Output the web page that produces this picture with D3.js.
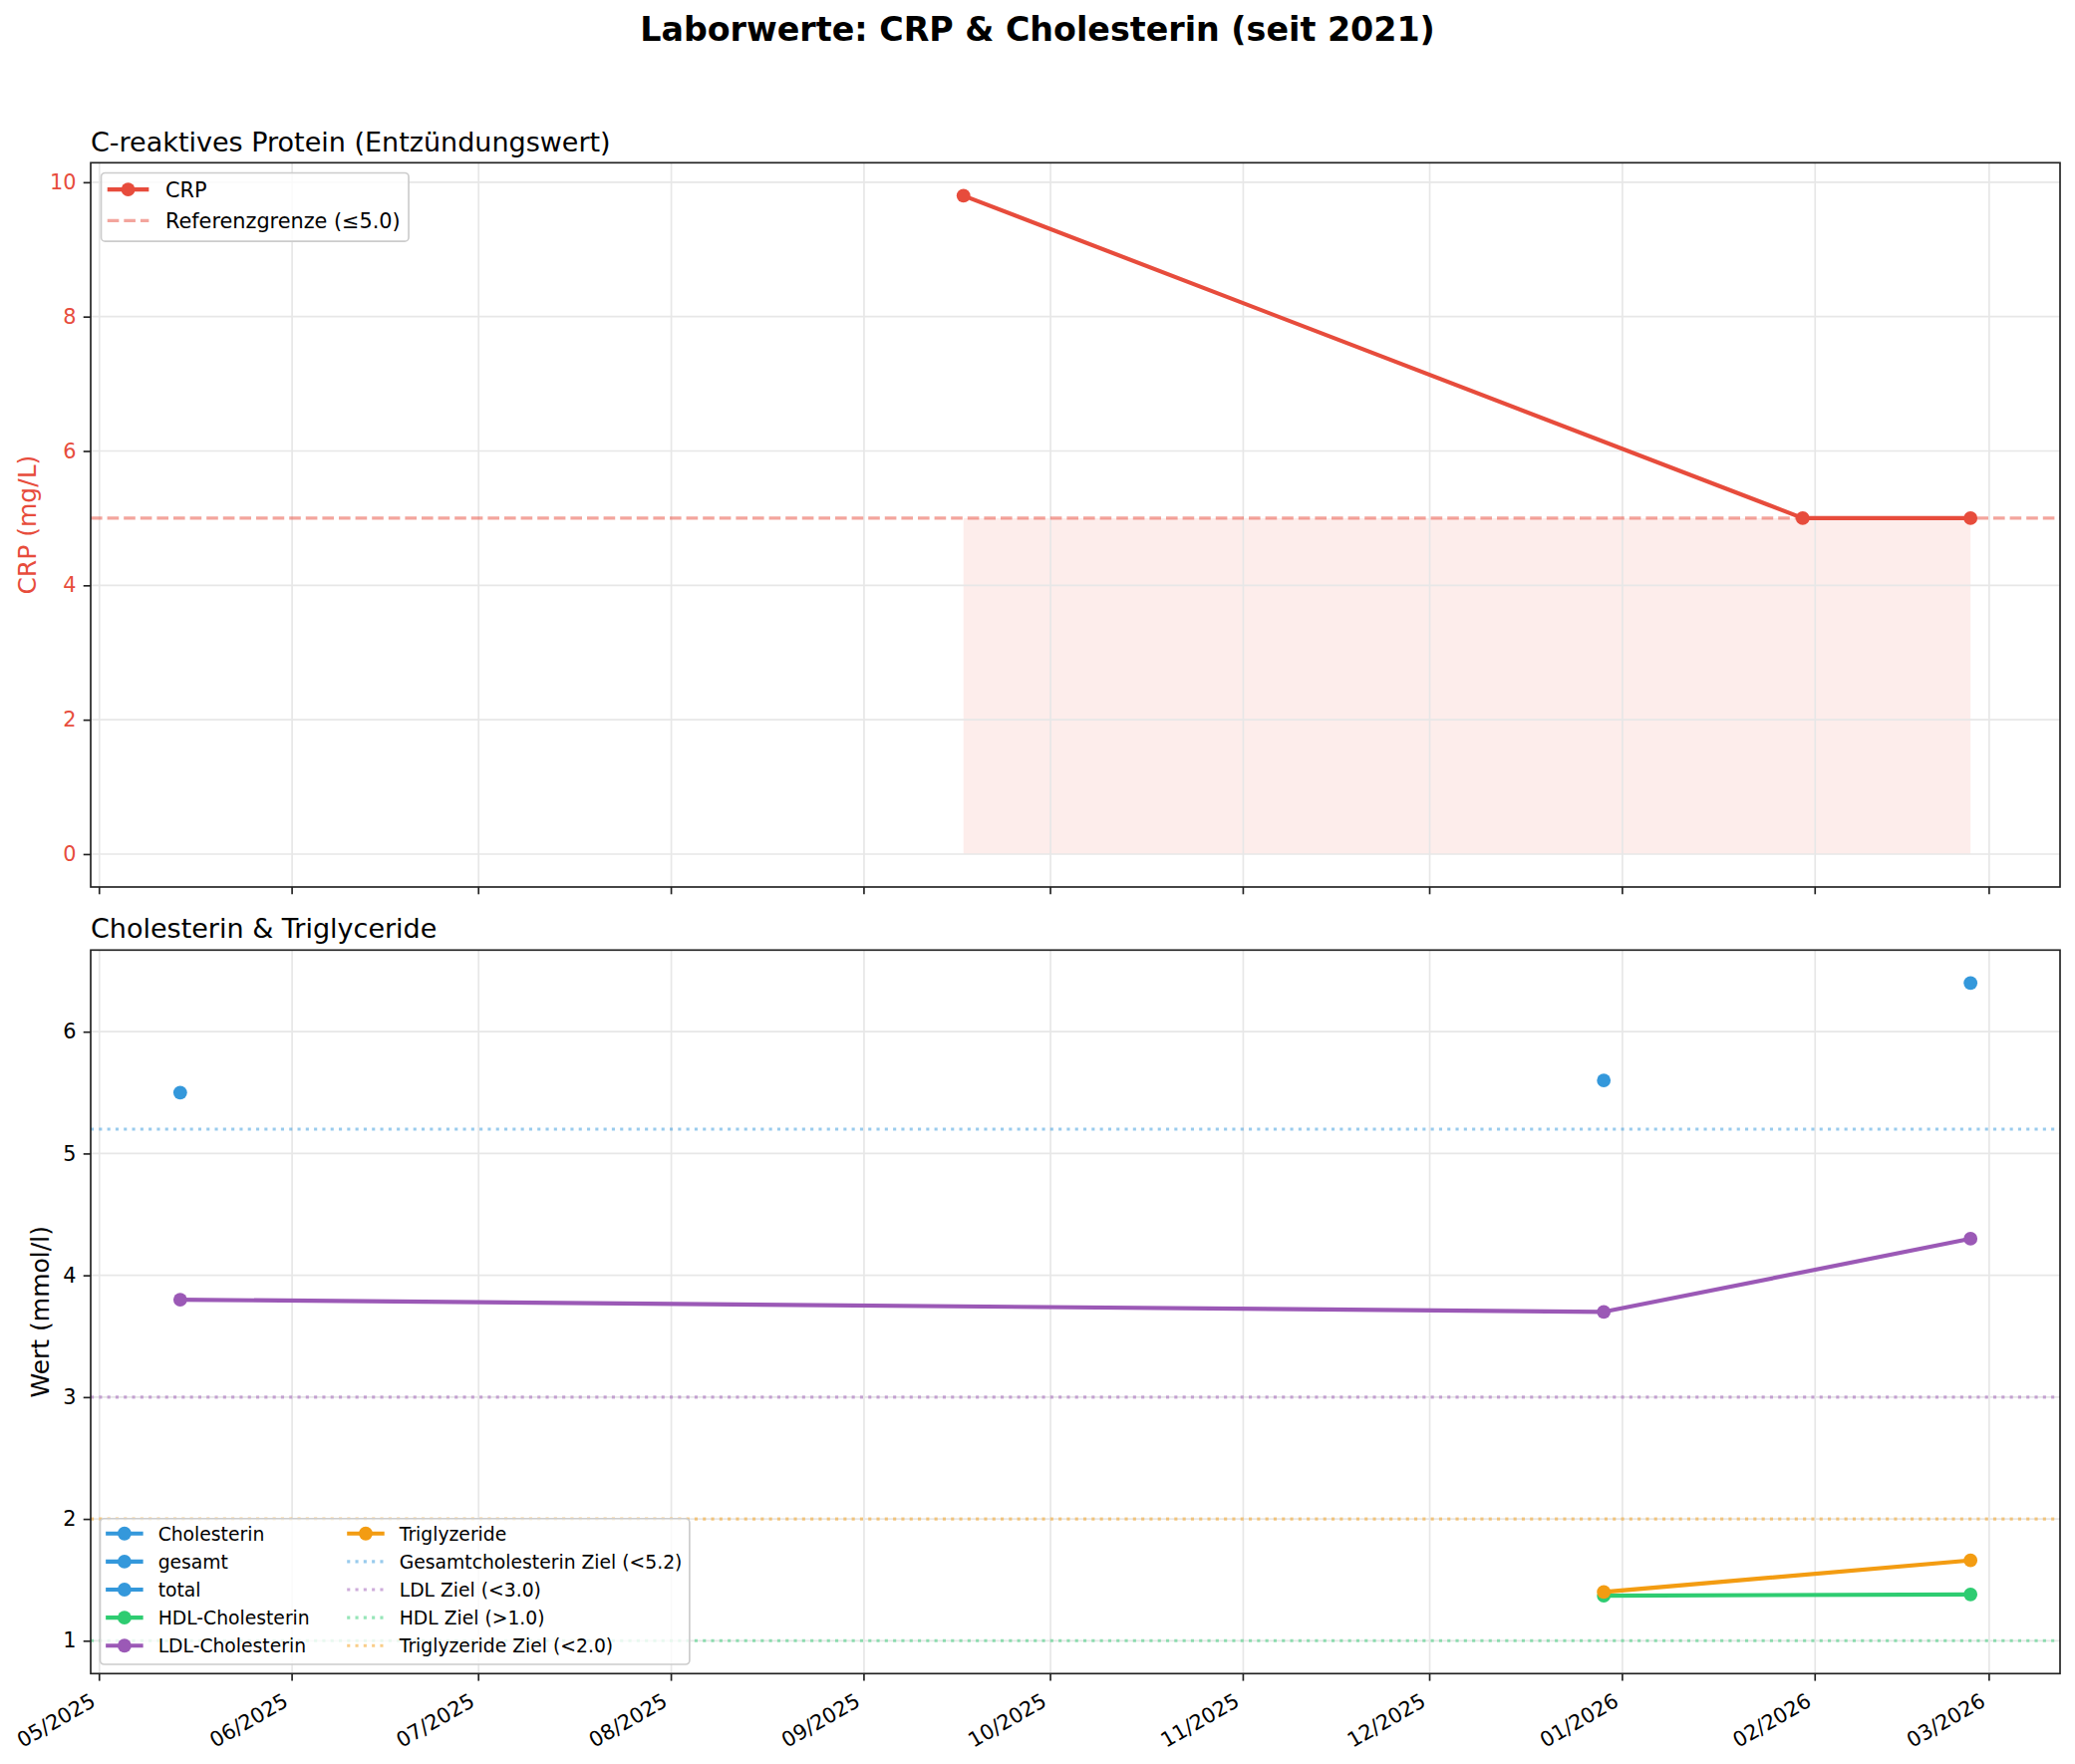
<!DOCTYPE html>
<html>
<head>
<meta charset="utf-8">
<script src="https://cdn.jsdelivr.net/npm/d3@7"></script>
<style>
body{margin:0;background:#fff;}
text{font-family:"DejaVu Sans",sans-serif;}
</style>
</head>
<body>
<svg id="chart"></svg>
<script>
// --- data ---
var crpDates = ["2025-09-17", "2026-01-30", "2026-02-26"];
var crpValues = [9.8, 5.0, 5.0];
var crpLimit = 5.0;
var crpTicks = [0, 2, 4, 6, 8, 10];

// blue points are three separate one-point series in the original
var cholLabels = ["Cholesterin", "gesamt", "total"];
var cholDates = ["2025-05-14", "2025-12-29", "2026-02-26"];
var cholValues = [5.5, 5.6, 6.4];

var hdlDates = ["2025-12-29", "2026-02-26"];
var hdlValues = [1.37, 1.38];

var ldlDates = ["2025-05-14", "2025-12-29", "2026-02-26"];
var ldlValues = [3.8, 3.7, 4.3];

var trigDates = ["2025-12-29", "2026-02-26"];
var trigValues = [1.40, 1.66];

var targetLabels = ["Gesamtcholesterin Ziel (<5.2)", "LDL Ziel (<3.0)", "HDL Ziel (>1.0)", "Triglyzeride Ziel (<2.0)"];
var targetValues = [5.2, 3.0, 1.0, 2.0];
var cholTicks = [1, 2, 3, 4, 5, 6];

// --- styles ---
var RED = "#e74c3c", BLUE = "#3498db", GREEN = "#2ecc71", PURPLE = "#9b59b6", ORANGE = "#f39c12";
var targetColors = [BLUE, PURPLE, GREEN, ORANGE];
var W = 2082, H = 1770;
var FS = 20.8;   // 10pt at 150dpi
var LW = 4.17;   // 2pt
var MR = 6.9;

var svg = d3.select("#chart").attr("width", W).attr("height", H);
svg.append("rect").attr("width", W).attr("height", H).attr("fill", "#fff");

var parse = d3.timeParse("%Y-%m-%d");
var allDates = [].concat(crpDates, cholDates, hdlDates, ldlDates, trigDates).map(parse);
var ext = d3.extent(allDates);
var span = ext[1] - ext[0];
var x = d3.scaleTime()
	.domain([new Date(+ext[0] - span * 0.05), new Date(+ext[1] + span * 0.05)])
	.range([91, 2067]);
var monthTicks = d3.timeMonth.range(d3.timeMonth.ceil(x.domain()[0]), x.domain()[1]);

function padded(lo, hi){
	var p = (hi - lo) * 0.05;
	return [lo - p, hi + p];
}

var pTop = {y0: 163.3, y1: 890, clip: "clipTop"};
var pBot = {y0: 953.3, y1: 1679.3, clip: "clipBot"};

var yTop = d3.scaleLinear()
	.domain(padded(Math.min(0, d3.min(crpValues)), d3.max(crpValues)))
	.range([pTop.y1, pTop.y0]);
var cholAll = [].concat(cholValues, hdlValues, ldlValues, trigValues, targetValues);
var yBot = d3.scaleLinear()
	.domain(padded(d3.min(cholAll), d3.max(cholAll)))
	.range([pBot.y1, pBot.y0]);

var defs = svg.append("defs");
[pTop, pBot].forEach(function(p){
	defs.append("clipPath").attr("id", p.clip)
		.append("rect").attr("x", 91).attr("y", p.y0).attr("width", 2067 - 91).attr("height", p.y1 - p.y0);
});

// grid
function drawGrid(g, p, y, ticks){
	g.selectAll(".vg").data(monthTicks).enter().append("line")
		.attr("x1", function(d){ return x(d); }).attr("x2", function(d){ return x(d); })
		.attr("y1", p.y0).attr("y2", p.y1)
		.attr("stroke", "#e7e7e7").attr("stroke-width", 1.67);
	g.selectAll(".hg").data(ticks).enter().append("line")
		.attr("x1", 91).attr("x2", 2067)
		.attr("y1", function(d){ return y(d); }).attr("y2", function(d){ return y(d); })
		.attr("stroke", "#e7e7e7").attr("stroke-width", 1.67);
}

function drawSeries(g, dates, values, y, color){
	var pts = dates.map(function(d, i){ return [parse(d), values[i]]; });
	g.append("path").datum(pts)
		.attr("d", d3.line().x(function(d){ return x(d[0]); }).y(function(d){ return y(d[1]); }))
		.attr("fill", "none").attr("stroke", color).attr("stroke-width", LW)
		.attr("stroke-linejoin", "round").attr("stroke-linecap", "square");
	g.selectAll(null).data(pts).enter().append("circle")
		.attr("cx", function(d){ return x(d[0]); })
		.attr("cy", function(d){ return y(d[1]); })
		.attr("r", MR).attr("fill", color);
}

function hline(g, yv, y, color, dash){
	g.append("line")
		.attr("x1", 91).attr("x2", 2067)
		.attr("y1", y(yv)).attr("y2", y(yv))
		.attr("stroke", color).attr("stroke-opacity", 0.5)
		.attr("stroke-width", 3.1).attr("stroke-dasharray", dash);
}

// ---------- top panel: CRP ----------
var gTop = svg.append("g").attr("clip-path", "url(#clipTop)");
var crpPts = crpDates.map(function(d, i){ return [parse(d), crpValues[i]]; });
gTop.append("path").datum(crpPts)
	.attr("d", d3.area()
		.x(function(d){ return x(d[0]); })
		.y0(yTop(0))
		.y1(function(d){ return yTop(Math.min(d[1], crpLimit)); }))
	.attr("fill", RED).attr("fill-opacity", 0.1);
drawGrid(gTop, pTop, yTop, crpTicks);
hline(gTop, crpLimit, yTop, RED, "11.6,5");
drawSeries(gTop, crpDates, crpValues, yTop, RED);

// ---------- bottom panel: cholesterol ----------
var gBot = svg.append("g").attr("clip-path", "url(#clipBot)");
drawGrid(gBot, pBot, yBot, cholTicks);
cholLabels.forEach(function(l, i){
	drawSeries(gBot, [cholDates[i]], [cholValues[i]], yBot, BLUE);
});
drawSeries(gBot, hdlDates, hdlValues, yBot, GREEN);
drawSeries(gBot, ldlDates, ldlValues, yBot, PURPLE);
drawSeries(gBot, trigDates, trigValues, yBot, ORANGE);
targetValues.forEach(function(v, i){
	hline(gBot, v, yBot, targetColors[i], "3.1,5.2");
});

// ---------- axes ----------
function yAxis(p, y, ticks, labelColor, label){
	var g = svg.append("g").attr("transform", "translate(91,0)")
		.call(d3.axisLeft(y).tickValues(ticks).tickFormat(d3.format("d")).tickSize(7.3).tickPadding(7.3));
	g.select(".domain").remove();
	g.selectAll(".tick line").attr("stroke", "#222").attr("stroke-width", 1.67);
	g.selectAll(".tick text").attr("font-size", FS).attr("fill", labelColor)
		.attr("font-family", "DejaVu Sans");
	var left = d3.min(g.selectAll(".tick text").nodes(), function(n){ return 91 + n.getBBox().x; });
	var cx = left - 8.3 - 6;
	svg.append("text")
		.attr("transform", "translate(" + cx + "," + ((p.y0 + p.y1) / 2) + ") rotate(-90)")
		.attr("text-anchor", "middle")
		.attr("font-size", 25).attr("fill", labelColor)
		.text(label);
}
yAxis(pTop, yTop, crpTicks, RED, "CRP (mg/L)");
yAxis(pBot, yBot, cholTicks, "#000", "Wert (mmol/l)");

function xTicks(p, withLabels){
	var g = svg.append("g");
	g.selectAll("line").data(monthTicks).enter().append("line")
		.attr("x1", function(d){ return x(d); }).attr("x2", function(d){ return x(d); })
		.attr("y1", p.y1).attr("y2", p.y1 + 7.3)
		.attr("stroke", "#222").attr("stroke-width", 1.67);
	if(withLabels){
		g.selectAll("text").data(monthTicks).enter().append("text")
			.attr("transform", function(d){
				return "translate(" + (x(d) - 2.5) + "," + (p.y1 + 31.5) + ") rotate(-30)";
			})
			.attr("text-anchor", "end")
			.attr("font-size", FS)
			.text(d3.timeFormat("%m/%Y"));
	}
}
xTicks(pTop, false);
xTicks(pBot, true);

// spines
[pTop, pBot].forEach(function(p){
	svg.append("rect").attr("x", 91).attr("y", p.y0)
		.attr("width", 2067 - 91).attr("height", p.y1 - p.y0)
		.attr("fill", "none").attr("stroke", "#222").attr("stroke-width", 1.67);
});

// ---------- titles ----------
svg.append("text").attr("x", 1041).attr("y", 40.7).attr("text-anchor", "middle")
	.attr("font-size", 33.3).attr("font-weight", "bold")
	.text("Laborwerte: CRP & Cholesterin (seit 2021)");
svg.append("text").attr("x", 91).attr("y", 152.3).attr("font-size", 27)
	.text("C-reaktives Protein (Entzündungswert)");
svg.append("text").attr("x", 91).attr("y", 941).attr("font-size", 27)
	.text("Cholesterin & Triglyceride");

// ---------- legends ----------
function legend(items, fs, ncol, boxLeft, anchorY, fromBottom){
	var rowH = fs * 1.5;
	var nrows = Math.ceil(items.length / ncol);
	var h = nrows * rowH + fs * 0.3;
	var boxTop = fromBottom ? anchorY - h : anchorY;
	var g = svg.append("g");
	var frame = g.append("rect");
	var colX = boxLeft + fs * 0.3;
	var maxRight = 0;
	for(var c = 0; c < ncol; c++){
		var colItems = items.slice(c * nrows, (c + 1) * nrows);
		var colW = 0;
		colItems.forEach(function(it, r){
			var by = boxTop + fs * 1.18 + r * rowH;
			var hy = by - fs * 0.38;
			var hx0 = colX, hx1 = colX + fs * 2;
			if(it.type == "line"){
				g.append("line").attr("x1", hx0).attr("x2", hx1).attr("y1", hy).attr("y2", hy)
					.attr("stroke", it.color).attr("stroke-width", LW);
				g.append("circle").attr("cx", (hx0 + hx1) / 2).attr("cy", hy).attr("r", MR).attr("fill", it.color);
			} else {
				g.append("line").attr("x1", hx0).attr("x2", hx1).attr("y1", hy).attr("y2", hy)
					.attr("stroke", it.color).attr("stroke-opacity", 0.5).attr("stroke-width", 3.1)
					.attr("stroke-dasharray", it.dash);
			}
			var t = g.append("text").attr("x", hx1 + fs * 0.8).attr("y", by)
				.attr("font-size", fs).text(it.label);
			var tw = t.node().getComputedTextLength();
			colW = Math.max(colW, fs * 2.8 + tw);
		});
		maxRight = colX + colW;
		colX = colX + colW + fs * 2;
	}
	frame.attr("x", boxLeft).attr("y", boxTop)
		.attr("width", maxRight + fs * 0.4 - boxLeft).attr("height", h)
		.attr("rx", 4).attr("fill", "#fff").attr("fill-opacity", 0.8)
		.attr("stroke", "#cccccc").attr("stroke-width", 1.67);
}

legend([
	{type: "line", color: RED, label: "CRP"},
	{type: "dash", color: RED, dash: "11.6,5", label: "Referenzgrenze (\u2264" + crpLimit.toFixed(1) + ")"}
], FS, 1, 101.5, 173.5, false);

var botItems = cholLabels.map(function(l){ return {type: "line", color: BLUE, label: l}; });
botItems.push({type: "line", color: GREEN, label: "HDL-Cholesterin"});
botItems.push({type: "line", color: PURPLE, label: "LDL-Cholesterin"});
botItems.push({type: "line", color: ORANGE, label: "Triglyzeride"});
targetLabels.forEach(function(l, i){
	botItems.push({type: "dash", color: targetColors[i], dash: "3.1,5.2", label: l});
});
legend(botItems, 18.75, 2, 100.5, 1670, true);
</script>
</body>
</html>
